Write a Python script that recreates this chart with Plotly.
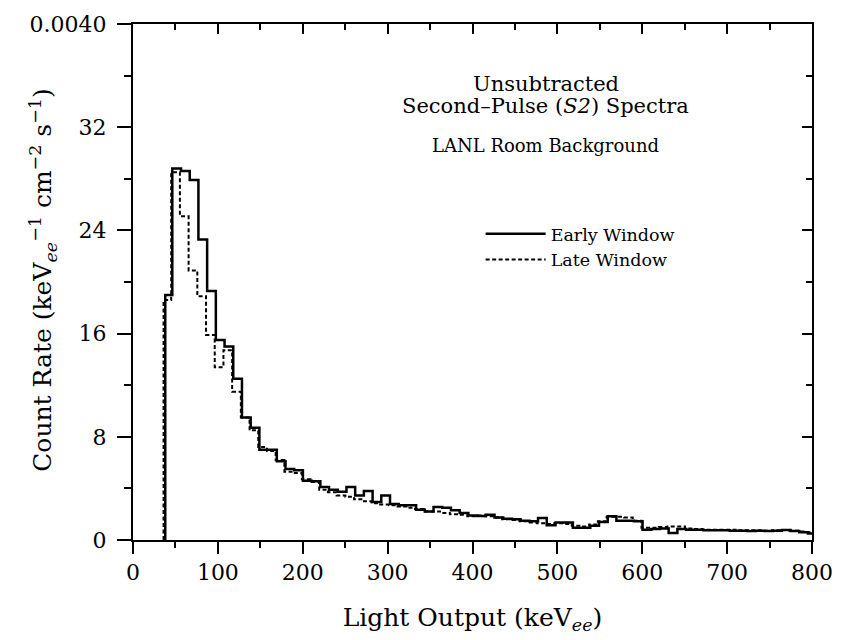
import numpy as np
import plotly.graph_objects as go

# ---------------- data ----------------
# Bin grid of the two histograms (keV_ee)
early_threshold = 38.0      # left edge of first (partial) bin, early window
early_grid_start = 46.3     # first full-bin edge, early window
late_threshold = 36.0
late_grid_start = 45.0
bin_width = 10.26
x_max = 800.0

# Count rate (axis units: 8 per major tick, top of axis = 0.0040)
early_first_bin = 19.0
early_counts = [
    28.8, 28.6, 27.9, 23.3, 19.3, 15.5, 15.0, 12.5, 9.5, 8.7,
    7.0, 7.0, 6.1, 5.5, 5.4, 4.6, 4.55, 4.1, 3.9, 3.75,
    4.1, 3.45, 3.8, 2.95, 3.45, 2.8, 2.7, 2.7, 2.35, 2.2,
    2.55, 2.5, 2.3, 2.1, 1.9, 1.86, 1.95, 1.75, 1.65, 1.6,
    1.5, 1.45, 1.7, 1.15, 1.35, 1.35, 0.95, 0.95, 1.1, 1.4,
    1.85, 1.5, 1.5, 1.45, 0.8, 0.85, 0.9, 0.55, 0.85, 0.8,
    0.8, 0.75, 0.75, 0.75, 0.72, 0.72, 0.7, 0.72, 0.7, 0.72,
    0.78, 0.7, 0.6, 0.5,
]
late_first_bin = 18.6
late_counts = [
    28.5, 25.1, 20.9, 18.9, 15.9, 13.4, 14.7, 11.5, 9.5, 8.5,
    7.2, 6.9, 6.2, 5.3, 5.2, 4.7, 4.5, 3.9, 3.7, 3.45,
    3.35, 3.15, 3.0, 2.85, 2.75, 2.7, 2.6, 2.5, 2.4, 2.2,
    2.2, 2.1, 2.0, 1.95, 1.85, 1.9, 1.85, 1.75, 1.6, 1.55,
    1.45, 1.35, 1.3, 1.25, 1.3, 1.25, 1.1, 1.05, 1.2, 1.45,
    1.8, 1.8, 1.75, 1.5, 0.95, 0.95, 1.0, 1.05, 1.05, 0.9,
    0.85, 0.8, 0.8, 0.8, 0.8, 0.75, 0.75, 0.75, 0.72, 0.75,
    0.78, 0.72, 0.65, 0.6,
]

y_tickvals = [0, 8, 16, 24, 32, 40]
y_ticktext = ["0", "8", "16", "24", "32", "0.0040"]
x_tickvals = [0, 100, 200, 300, 400, 500, 600, 700, 800]


def step_points(threshold, grid_start, first_val, counts):
    lefts = grid_start + bin_width * np.arange(len(counts))
    xs = [threshold, threshold] + list(lefts) + [x_max]
    ys = [0.0, first_val] + list(counts) + [counts[-1]]
    return xs, ys


ex, ey = step_points(early_threshold, early_grid_start, early_first_bin, early_counts)
lx, ly = step_points(late_threshold, late_grid_start, late_first_bin, late_counts)

FONT = "DejaVu Serif"

fig = go.Figure()
fig.add_trace(go.Scatter(x=ex, y=ey, mode="lines", line_shape="hv",
                         line=dict(color="black", width=2.5),
                         name="Early Window"))
fig.add_trace(go.Scatter(x=lx, y=ly, mode="lines", line_shape="hv",
                         line=dict(color="black", width=2, dash="4px,2.5px"),
                         name="Late Window"))

# invisible trace to anchor mirrored (inside-tick) axes
fig.add_trace(go.Scatter(x=[0], y=[0], xaxis="x2", yaxis="y2", mode="none",
                         showlegend=False, hoverinfo="skip"))

fig.update_layout(
    width=845, height=640,
    margin=dict(l=133, r=28, t=23, b=100),
    paper_bgcolor="white", plot_bgcolor="white",
    font=dict(family=FONT, color="black", size=22),
    showlegend=True,
    legend=dict(x=0.512, y=0.628, xanchor="left", yanchor="top",
                font=dict(family=FONT, size=17.5), bgcolor="rgba(0,0,0,0)",
                itemwidth=60, tracegroupgap=0),
    xaxis=dict(range=[0, 800], tickvals=x_tickvals, ticks="outside",
               ticklen=12, tickwidth=1.5, tickcolor="black",
               showline=True, linecolor="black", linewidth=2,
               showgrid=False, zeroline=False,
               minor=dict(dtick=50, ticks="outside", ticklen=6,
                          tickwidth=1.5, tickcolor="black"),
               tickfont=dict(size=22),
               title=dict(text="Light Output (keV<sub><i>ee</i></sub>)",
                          font=dict(size=25), standoff=24)),
    yaxis=dict(range=[0, 40], tickvals=y_tickvals, ticktext=y_ticktext,
               ticks="outside", ticklen=14, tickwidth=1.5, tickcolor="black",
               showline=True, linecolor="black", linewidth=2,
               showgrid=False, zeroline=False,
               ticklabelstandoff=6,
               minor=dict(dtick=4, ticks="outside", ticklen=7,
                          tickwidth=1.5, tickcolor="black"),
               tickfont=dict(size=22)),
    xaxis2=dict(range=[0, 800], overlaying="x", side="top", anchor="y2",
                tickvals=x_tickvals, ticks="inside", ticklen=10,
                tickwidth=1.5, tickcolor="black", showticklabels=False,
                showline=True, linecolor="black", linewidth=2,
                showgrid=False, zeroline=False,
                minor=dict(dtick=50, ticks="inside", ticklen=6,
                           tickwidth=1.5, tickcolor="black")),
    yaxis2=dict(range=[0, 40], overlaying="y", side="right", anchor="x2",
                tickvals=y_tickvals, ticks="inside", ticklen=10,
                tickwidth=1.5, tickcolor="black", showticklabels=False,
                showline=True, linecolor="black", linewidth=2,
                showgrid=False, zeroline=False,
                minor=dict(dtick=4, ticks="inside", ticklen=6,
                           tickwidth=1.5, tickcolor="black")),
    annotations=[
        dict(text="Count Rate (keV<sub><i>ee</i></sub><sup>−1</sup> cm<sup>−2</sup> s<sup>−1</sup>)",
             x=-0.132, y=0.505, xref="paper", yref="paper", textangle=-90,
             showarrow=False, font=dict(family=FONT, size=25),
             xanchor="center", yanchor="middle"),
        dict(text="Unsubtracted", x=0.608, y=0.884, xref="paper", yref="paper",
             showarrow=False, font=dict(family=FONT, size=21),
             xanchor="center", yanchor="middle"),
        dict(text="Second–Pulse (<i>S2</i>) Spectra", x=0.608, y=0.842,
             xref="paper", yref="paper", showarrow=False,
             font=dict(family=FONT, size=21), xanchor="center", yanchor="middle"),
        dict(text="LANL Room Background", x=0.608, y=0.764, xref="paper",
             yref="paper", showarrow=False, font=dict(family=FONT, size=18),
             xanchor="center", yanchor="middle"),
    ],
)

fig.write_html("out.html")
